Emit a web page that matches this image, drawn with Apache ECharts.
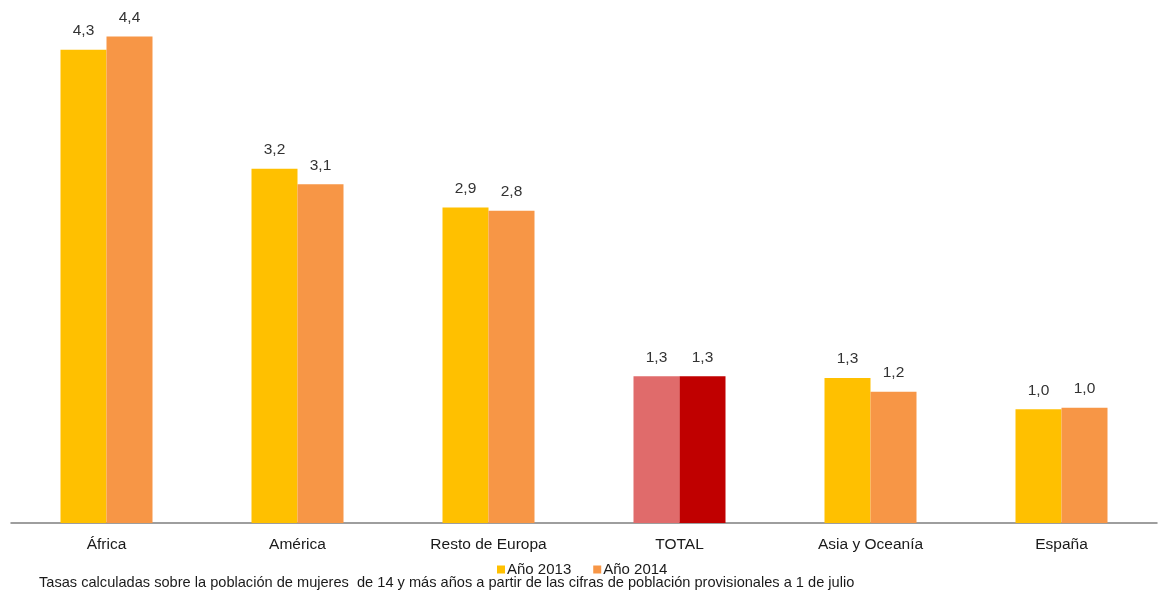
<!DOCTYPE html>
<html>
<head>
<meta charset="utf-8">
<script src="https://cdn.jsdelivr.net/npm/echarts@6/dist/echarts.min.js"></script>
<style>
	html, body { margin: 0; padding: 0; background: #fff; }
	#chart { width: 1159px; height: 592px; }
</style>
</head>
<body>
<div id="chart"></div>
<script>
var categories = ["África", "América", "Resto de Europa", "TOTAL", "Asia y Oceanía", "España"];
var values2013 = [4.29, 3.21, 2.86, 1.33, 1.315, 1.03];
var values2014 = [4.41, 3.07, 2.83, 1.33, 1.19, 1.045];
var seriesNames = ["Año 2013", "Año 2014"];
var footnote = "Tasas calculadas sobre la población de mujeres  de 14 y más años a partir de las cifras de población provisionales a 1 de julio";

var color2013 = "#FFC000";
var color2014 = "#F79646";
var totalColors = ["#E06B6B", "#C00000"];

// TOTAL gets its own colours
function build_data(values, totalColor) {
	return values.map((v, i) => {
		if (categories[i] === "TOTAL") {
			return { value: v, itemStyle: { color: totalColor } };
		}
		return v;
	});
}

var label_fmt = p => p.value.toFixed(1).replace(".", ",");

var mychart = echarts.init(document.getElementById("chart"));
var option = {
	animation: false,
	textStyle: { fontFamily: "Liberation Sans, Arial, sans-serif" },
	title: {
		text: footnote,
		left: 39,
		top: 575,
		padding: 0,
		textStyle: { fontSize: 14.6, fontWeight: "normal", color: "#1a1a1a" }
	},
	legend: {
		data: seriesNames,
		left: 492,
		top: 557,
		itemWidth: 8,
		itemHeight: 8,
		itemGap: 22,
		icon: "rect",
		textStyle: { fontSize: 15, color: "#1a1a1a", padding: [0, 0, 0, -3] }
	},
	grid: { left: 11, right: 2, top: 10, bottom: 69 },
	xAxis: {
		type: "category",
		data: categories,
		axisTick: { show: false },
		axisLine: { lineStyle: { color: "#7f7f7f", width: 1.5 } },
		axisLabel: { fontSize: 15.5, color: "#1a1a1a", margin: 14 }
	},
	yAxis: {
		type: "value",
		min: 0,
		max: 4.65,
		show: false,
		splitLine: { show: false }
	},
	series: [
		{
			name: seriesNames[0],
			type: "bar",
			data: build_data(values2013, totalColors[0]),
			itemStyle: { color: color2013 },
			barWidth: 46,
			barGap: "0%",
			label: { show: true, position: "top", distance: 11, fontSize: 15.5, color: "#333", formatter: label_fmt }
		},
		{
			name: seriesNames[1],
			type: "bar",
			data: build_data(values2014, totalColors[1]),
			itemStyle: { color: color2014 },
			barWidth: 46,
			barGap: "0%",
			label: { show: true, position: "top", distance: 11, fontSize: 15.5, color: "#333", formatter: label_fmt }
		}
	]
};
mychart.setOption(option);
</script>
</body>
</html>
